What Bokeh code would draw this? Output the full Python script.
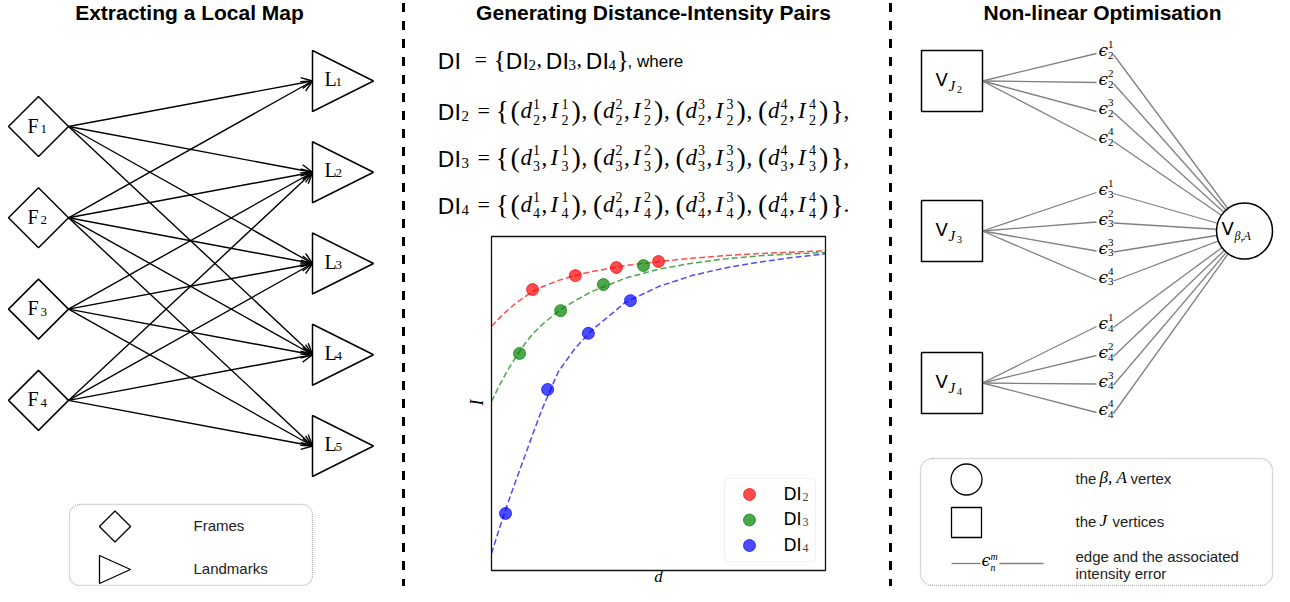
import math
from bokeh.plotting import figure
from bokeh.models import Range1d, ColumnDataSource, Arrow, OpenHead, BoxAnnotation
from bokeh.core.properties import field
from bokeh.embed import file_html
from bokeh.resources import INLINE

# ---------------- data ----------------
titles = ["Extracting a Local Map", "Generating Distance-Intensity Pairs", "Non-linear Optimisation"]

frame_ids = ["1", "2", "3", "4"]
landmark_ids = ["1", "2", "3", "4", "5"]
edge_frame = [1, 1, 1, 1, 2, 2, 2, 2, 2, 3, 3, 3, 3, 4, 4, 4, 4]
edge_landmark = [1, 2, 3, 4, 1, 2, 3, 4, 5, 2, 3, 4, 5, 2, 3, 4, 5]
left_legend_labels = ["Frames", "Landmarks"]

series_ids = ["2", "3", "4"]
pair_ids = ["1", "2", "3", "4"]

dot_d_2 = [0.123, 0.251, 0.374, 0.500]
dot_I_2 = [0.841, 0.883, 0.907, 0.925]
dot_d_3 = [0.084, 0.207, 0.335, 0.455]
dot_I_3 = [0.650, 0.778, 0.856, 0.913]
dot_d_4 = [0.042, 0.168, 0.290, 0.416]
dot_I_4 = [0.171, 0.542, 0.710, 0.808]

curve_d = [0.0, 0.025, 0.05, 0.075, 0.1, 0.125, 0.15, 0.2, 0.25, 0.3, 0.4, 0.5, 0.6, 0.7, 0.8, 0.9, 1.0]
curve_I_2 = [0.731, 0.757, 0.781, 0.802, 0.820, 0.836, 0.849, 0.868, 0.883, 0.895, 0.913, 0.925, 0.935, 0.943, 0.949, 0.953, 0.957]
curve_I_3 = [0.506, 0.557, 0.602, 0.643, 0.679, 0.710, 0.735, 0.776, 0.808, 0.835, 0.875, 0.902, 0.920, 0.933, 0.942, 0.948, 0.952]
curve_I_4 = [0.051, 0.130, 0.205, 0.275, 0.343, 0.412, 0.480, 0.595, 0.665, 0.719, 0.802, 0.850, 0.883, 0.906, 0.923, 0.937, 0.948]

right_legend_labels = ["the", "β, A", "vertex", "the", "J", "vertices",
                       "edge and the associated", "intensity error"]

# ---------------- layout / style ----------------
W, H = 1274, 586
SANS = "Liberation Sans"
MSANS = "DejaVu Sans"
SERIF = "Liberation Serif"
EPSF = "DejaVu Serif"
COLORS = ["#ff0000", "#008000", "#0000ff"]
GREY = "#808080"

p = figure(width=W, height=H, x_range=Range1d(0, W), y_range=Range1d(H, 0),
           output_backend="svg", toolbar_location=None, min_border=0,
           x_axis_location=None, y_axis_location=None)
p.grid.visible = False
p.outline_line_color = None
p.background_fill_color = "white"

# inner axes box (pixels) -> data ranges d in [0,1], I in [0,1]
BX0, BX1, BY0, BY1 = 491, 825, 570, 236
sx, sy = BX1 - BX0, BY0 - BY1
p.extra_x_ranges = {"d": Range1d((0 - BX0) / sx, (W - BX0) / sx)}
p.extra_y_ranges = {"I": Range1d((BY0 - H) / sy, (BY0 - 0) / sy)}

T = dict(x=[], y=[], text=[], font=[], size=[], style=[], align=[], color=[], angle=[])


def put(x, cy, s, size, font=SANS, style="normal", align="left", color="black", angle=0.0):
    """cy = wanted vertical centre of the glyphs"""
    T["x"].append(x); T["y"].append(cy - 1); T["text"].append(s)
    T["font"].append(font); T["size"].append(size); T["style"].append(style)
    T["align"].append(align); T["color"].append(color); T["angle"].append(angle)


# titles
for t, cx in zip(titles, [189, 653, 1102]):
    put(cx, 13, t, "21px", SANS, "bold", "center")

# separators
for xsep in [403, 890]:
    p.line([xsep, xsep], [2.5, 602], line_width=3, line_color="black", line_dash="9 9")

# ---------------- left panel ----------------
FX, FY0, FDY, FR = 38, 126, 91.3, 30
LX, LY0, LDY, LH = 312, 80.5, 91.25, 30.5
fy = [FY0 + i * FDY for i in range(len(frame_ids))]
ly = [LY0 + i * LDY for i in range(len(landmark_ids))]

arr = ColumnDataSource(dict(
    x0=[FX + FR] * len(edge_frame),
    y0=[fy[f - 1] for f in edge_frame],
    x1=[LX] * len(edge_landmark),
    y1=[ly[l - 1] for l in edge_landmark]))
p.add_layout(Arrow(x_start="x0", y_start="y0", x_end="x1", y_end="y1", source=arr,
                   line_width=1.4, line_color="black",
                   end=OpenHead(size=11, line_width=1.4, line_color="black")))

p.scatter([FX] * len(fy), fy, marker="square", size=FR * math.sqrt(2), angle=math.pi / 4,
          fill_color="white", line_color="black", line_width=1.5)
p.patches([[LX, LX, LX + 61] for _ in ly], [[y - LH, y + LH, y] for y in ly],
          fill_color="white", line_color="black", line_width=1.5)

for fid, y in zip(frame_ids, fy):
    put(27, y, "F", "20px", SERIF)
    put(40, y + 3.5, fid, "13px", SERIF)
for lid, y in zip(landmark_ids, ly):
    put(324, y - 1, "L", "20px", SERIF)
    put(335, y + 2, lid, "13px", SERIF)

# left legend
p.add_layout(BoxAnnotation(left=69, right=312, top=504, bottom=585, border_radius=10,
                           fill_color=None, line_color="black", line_dash="1 1", line_width=1.3))
p.scatter([114.5], [526], marker="square", size=22, angle=math.pi / 4,
          fill_color="white", line_color="black", line_width=1.3)
p.patch([99, 99, 130], [555, 583, 569], fill_color="white", line_color="black", line_width=1.3)
put(193, 526, left_legend_labels[0], "15px", SANS, color="#222222")
put(193, 569, left_legend_labels[1], "15px", SANS, color="#222222")

# ---------------- middle panel: text ----------------
ROW_C = [61.5, 112.7, 159.5, 206.5]
c = ROW_C[0]
put(437, c, "DI", "22px", MSANS)
put(474, c - 1.5, "=", "22px", SERIF)
put(493, c - 1.5, "{", "26px", SERIF)
for k, (j, xx) in enumerate(zip(series_ids, [505, 545, 585])):
    put(xx, c, "DI", "22px", MSANS)
    put(xx + 23, c + 3.5, j, "15px", SERIF)
    if k < len(series_ids) - 1:
        put(xx + 31, c - 2, ",", "22px", SERIF)
put(616, c - 1.5, "}", "26px", SERIF)
put(627, c, ", where", "17px", SANS)

for r, j in enumerate(series_ids):
    c = ROW_C[r + 1]
    put(437, c, "DI", "22px", MSANS)
    put(461, c + 3.5, j, "15px", SERIF)
    put(477, c - 1.5, "=", "22px", SERIF)
    put(495, c - 1.5, "{", "28px", SERIF)
    for k, m in enumerate(pair_ids):
        gx = 510 + 82.5 * k
        put(gx, c - 1.5, "(", "28px", SERIF)
        put(gx + 10, c - 2, "d", "23px", SERIF, "italic")
        put(gx + 22.5, c - 8.7, m, "14px", SERIF)
        put(gx + 22.5, c + 7.3, j, "14px", SERIF)
        put(gx + 31, c - 2, ",", "23px", SERIF)
        put(gx + 40, c - 2, "I", "23px", SERIF, "italic")
        put(gx + 51, c - 8.7, m, "14px", SERIF)
        put(gx + 51, c + 7.3, j, "14px", SERIF)
        put(gx + 61, c - 1.5, ")", "28px", SERIF)
        if k < len(pair_ids) - 1:
            put(gx + 71, c - 2, ",", "23px", SERIF)
    put(830, c - 1.5, "}", "28px", SERIF)
    put(843, c - 2, "," if r < len(series_ids) - 1 else ".", "23px", SERIF)

# ---------------- middle panel: inner plot ----------------
for cI, dd, dI, col in zip([curve_I_2, curve_I_3, curve_I_4],
                           [dot_d_2, dot_d_3, dot_d_4],
                           [dot_I_2, dot_I_3, dot_I_4], COLORS):
    p.line(curve_d, cI, line_color=col, line_alpha=0.7, line_width=1.5, line_dash="6 3",
           x_range_name="d", y_range_name="I")
    p.scatter(dd, dI, size=12, fill_color=col, fill_alpha=0.7, line_color=col, line_alpha=0.7,
              x_range_name="d", y_range_name="I")
p.quad(left=0, right=1, bottom=0, top=1, fill_color=None, line_color="#111111", line_width=1.3,
       x_range_name="d", y_range_name="I")
put(658, 577, "d", "17px", SERIF, "italic", "center")
put(476, 403, "I", "18px", SERIF, "italic", "center", angle=math.pi / 2)

p.add_layout(BoxAnnotation(left=724, right=815, top=478, bottom=561, border_radius=4,
                           fill_color="white", fill_alpha=0.8, line_color="#cccccc",
                           line_width=1.2, level="underlay"))
leg_y = [494, 519.5, 545]
p.scatter([749] * 3, leg_y, size=12, fill_color=COLORS, fill_alpha=0.7, line_color=COLORS, line_alpha=0.7)
for j, y in zip(series_ids, leg_y):
    put(783, y, "DI", "17px", MSANS)
    put(802, y + 3, j, "12px", SERIF, color="#444444")

# ---------------- right panel ----------------
SQX, SQS = 951.5, 61
sq_y = [80.5, 230.5, 382.5]
eps_y = [[53, 82, 111, 140], [192, 221.5, 250.5, 279.5], [326, 355, 383.5, 412]]
CX, CY, CD = 1244, 230.5, 56
EX = 1098

sx0, sy0, sx1, sy1 = [], [], [], []
for g, yy in enumerate(sq_y):
    for ey in eps_y[g]:
        sx0.append(SQX + SQS / 2); sy0.append(yy); sx1.append(EX - 2); sy1.append(ey)
        sx0.append(EX + 15); sy0.append(ey + 1); sx1.append(CX); sy1.append(CY)
p.segment(sx0, sy0, sx1, sy1, line_color=GREY, line_width=1.3)

p.scatter([SQX] * 3, sq_y, marker="square", size=SQS, fill_color="white", line_color="black", line_width=1.5)
p.scatter([CX], [CY], marker="circle", size=CD, fill_color="white", line_color="black", line_width=1.5)

for j, yy in zip(series_ids, sq_y):
    put(935, yy - 0.5, "V", "18px", MSANS)
    put(948, yy + 6, "J", "15px", SERIF, "italic")
    put(956.5, yy + 9.5, j, "10px", SERIF)
put(CX - 23, CY - 1.5, "V", "18px", MSANS)
put(CX - 10, CY + 5.5, "β,A", "12px", SERIF, "italic")

for g, j in enumerate(series_ids):
    for m, ey in zip(pair_ids, eps_y[g]):
        put(EX, ey - 2.5, "ϵ", "17px", EPSF, "italic")
        put(EX + 9.5, ey - 8, m, "11px", SERIF)
        put(EX + 9.5, ey + 2.5, j, "11px", SERIF)

# right legend
p.add_layout(BoxAnnotation(left=920, right=1272, top=458, bottom=585, border_radius=12,
                           fill_color=None, line_color="black", line_dash="1 1", line_width=1.3))
p.scatter([966], [479], marker="circle", size=31, fill_color="white", line_color="black", line_width=1.3)
p.scatter([966], [522], marker="square", size=30, fill_color="white", line_color="black", line_width=1.3)
p.segment([951, 999], [563, 563], [980, 1043], [563, 563], line_color=GREY, line_width=1.3)
put(981, 561, "ϵ", "16px", EPSF, "italic")
put(990, 557, "m", "10px", SERIF, "italic")
put(990, 568, "n", "10px", SERIF, "italic")

put(1075, 479, right_legend_labels[0], "15px", SANS, color="#222222")
put(1099, 478, right_legend_labels[1], "17px", SERIF, "italic")
put(1130, 479, right_legend_labels[2], "15px", SANS, color="#222222")
put(1075, 522, right_legend_labels[3], "15px", SANS, color="#222222")
put(1099, 521, right_legend_labels[4], "17px", SERIF, "italic")
put(1112, 522, right_legend_labels[5], "15px", SANS, color="#222222")
put(1075, 557, right_legend_labels[6], "15px", SANS, color="#222222")
put(1075, 574, right_legend_labels[7], "15px", SANS, color="#222222")

# all texts
src = ColumnDataSource(T)
p.text(x="x", y="y", text="text", source=src, text_font=field("font"), text_font_size=field("size"),
       text_font_style=field("style"), text_align=field("align"), text_baseline="alphabetic",
       text_color=field("color"), angle=field("angle"))

open("out.html", "w").write(file_html(p, INLINE))
